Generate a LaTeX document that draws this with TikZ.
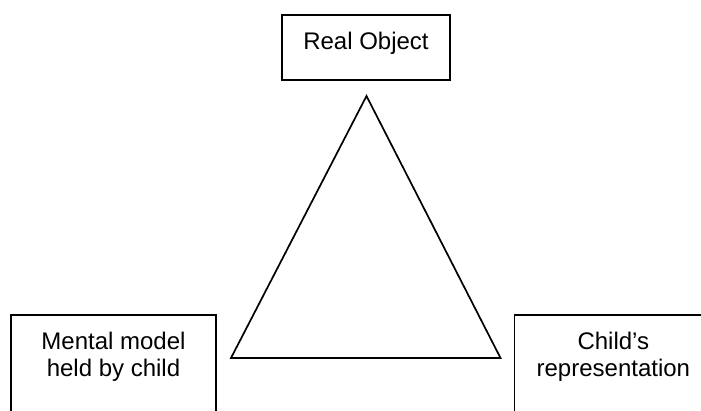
\documentclass[tikz,border=0pt]{standalone}
\usepackage{fontspec}
\setmainfont{Liberation Sans}
\begin{document}
\begin{tikzpicture}[x=1pt, y=-1pt, line width=1.7pt]
\tikzstyle{entity} = [rectangle, draw=black, align=center, text centered,
  font=\fontsize{24}{27}\selectfont, inner xsep=0pt, inner ysep=17pt]

\useasboundingbox (0,0) rectangle (701,410);
\clip (0,0) rectangle (701,410);

\node (O) [entity, minimum width=168pt, text height=17pt, text depth=14pt] at (366,47.5) {Real Object};
\node (M) [entity, anchor=north, minimum width=205pt, text depth=75pt] at (113.5,314) {Mental model\\held by child};
\node (C) [entity, anchor=north west, minimum width=198pt, text depth=75pt] at (513.5,314) {Child’s\\representation};

\coordinate (A) at (366.5,96);
\coordinate (L) at (231,358);
\coordinate (R) at (500.5,358);

\draw [line join=miter] (A) -- (L) -- (R) -- cycle;
\end{tikzpicture}
\end{document}
